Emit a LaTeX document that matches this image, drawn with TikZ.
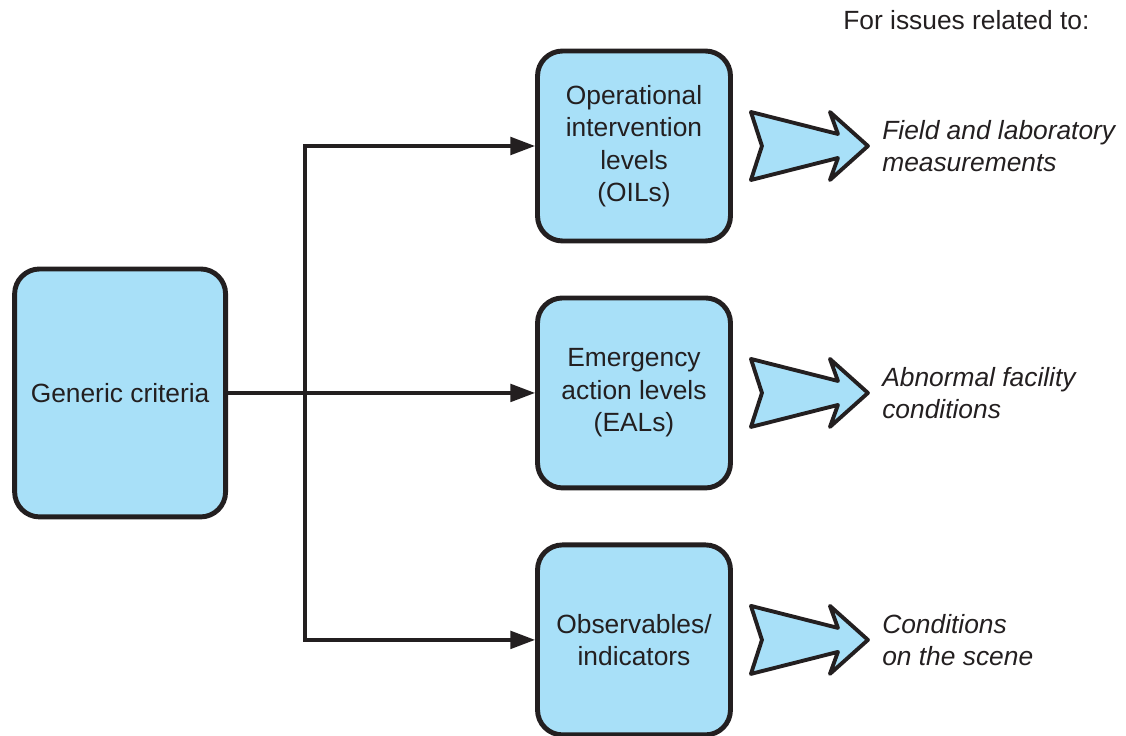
\documentclass[tikz,border=0pt]{standalone}
\usepackage{fontspec}
\setmainfont{Liberation Sans}
\usetikzlibrary{arrows.meta}
\definecolor{boxblue}{RGB}{168,224,248}
\definecolor{inkgray}{RGB}{35,31,32}
\begin{document}
\begin{tikzpicture}[x=0.02cm, y=-0.02cm, node distance=4.94cm]
    \tikzstyle{levelbox} = [rectangle, rounded corners=0.5cm, minimum width=3.86cm, minimum height=3.8cm, text centered, align=center, draw=inkgray, line width=2.8pt, fill=boxblue, text=inkgray, font=\fontsize{15}{18.5}\selectfont]
    \tikzstyle{arrow} = [line width=1.9pt, draw=inkgray, -{Triangle[length=14pt,width=10pt]}]
    \tikzstyle{trunk} = [line width=2.2pt, draw=inkgray, line cap=rect]
    \tikzstyle{chevron} = [line width=2.2pt, draw=inkgray, fill=boxblue, line join=round]
    \tikzstyle{issue} = [anchor=west, align=left, inner sep=0pt, text=inkgray, font=\fontsize{15}{18.5}\selectfont\itshape]

    \useasboundingbox (0,0) rectangle (1126,736);

    \node (oil) [levelbox] at (634,146) {Operational\\intervention\\levels\\(OILs)};
    \node (eal) [levelbox, below of=oil] {Emergency\\action levels\\(EALs)};
    \node (obs) [levelbox, below of=eal] {Observables/\\indicators};
    \node (gen) [levelbox, left of=eal, xshift=-5.34cm, minimum width=4.22cm, minimum height=4.96cm] {Generic criteria};

    \coordinate (split) at (305,0);
    \draw [arrow] (gen) -- (eal);
    \draw [trunk] (split |- oil) -- (split |- obs);
    \draw [arrow] (split |- oil) -- (oil);
    \draw [arrow] (split |- obs) -- (obs);

    % broad arrows towards the issues
    \foreach \lvl in {oil, eal, obs} {
        \draw [chevron] ([shift={(18,-34)}]\lvl.east) -- ++(87,22) -- ++(-8,-22) -- ++(38,34) -- ++(-38,34) -- ++(8,-22) -- ++(-87,22) -- ++(11,-34) -- cycle;
        \coordinate (\lvl-tip) at ([shift={(135,0)}]\lvl.east);
    }

    \node (header) [issue, font=\fontsize{15}{18.5}\selectfont] at (843,20) {For issues related to:};
    \node (field) [issue] at ([shift={(14,0)}]oil-tip) {Field and laboratory\\measurements};
    \node (abnormal) [issue] at ([shift={(14,0)}]eal-tip) {Abnormal facility\\conditions};
    \node (scene) [issue] at ([shift={(14,0)}]obs-tip) {Conditions\\on the scene};
\end{tikzpicture}
\end{document}
